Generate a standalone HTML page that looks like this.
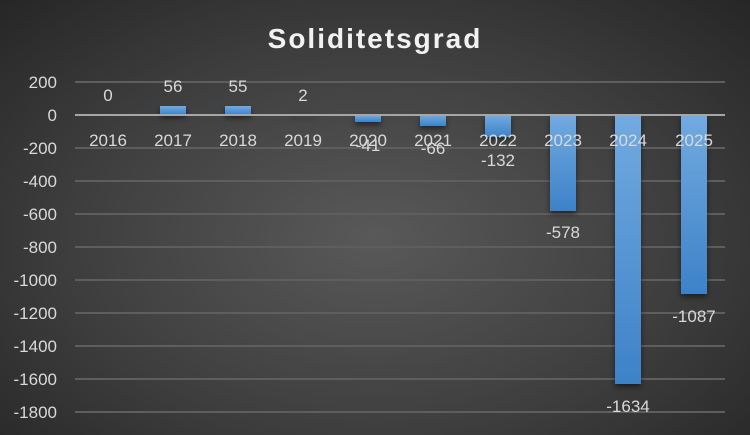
<!DOCTYPE html>
<html><head><meta charset="utf-8"><style>
html,body{margin:0;padding:0}
body{width:750px;height:435px;overflow:hidden;background:radial-gradient(ellipse at 50% 55%,#595959 0%,#3f3f3f 55%,#262626 100%);font-family:"Liberation Sans",sans-serif}
</style></head><body>
<svg width="750" height="435" xmlns="http://www.w3.org/2000/svg" style="position:absolute;left:0;top:0">
<defs>
<linearGradient id="bg" x1="0" y1="0" x2="0" y2="1"><stop offset="0" stop-color="#72aae0"/><stop offset="1" stop-color="#3d82c8"/></linearGradient>
<filter id="sh" x="-30%" y="-30%" width="160%" height="160%"><feDropShadow dx="0" dy="3" stdDeviation="3" flood-color="#000" flood-opacity="0.5"/></filter>
</defs>
<text x="375" y="48" text-anchor="middle" fill="#f2f2f2" font-size="28" font-weight="bold" letter-spacing="2">Soliditetsgrad</text>
<g stroke="#5e5e5e" stroke-width="2">
<line x1="75" x2="725" y1="82" y2="82"/>
<line x1="75" x2="725" y1="148" y2="148"/><line x1="75" x2="725" y1="181" y2="181"/>
<line x1="75" x2="725" y1="214" y2="214"/><line x1="75" x2="725" y1="247" y2="247"/>
<line x1="75" x2="725" y1="280" y2="280"/><line x1="75" x2="725" y1="313" y2="313"/>
<line x1="75" x2="725" y1="346" y2="346"/><line x1="75" x2="725" y1="379" y2="379"/>
<line x1="75" x2="725" y1="412" y2="412"/>
</g>
<g fill="#d9d9d9" font-size="17" text-anchor="end">
<text x="57" y="88">200</text><text x="57" y="121">0</text><text x="57" y="154">-200</text>
<text x="57" y="187">-400</text><text x="57" y="220">-600</text><text x="57" y="253">-800</text>
<text x="57" y="286">-1000</text><text x="57" y="319">-1200</text><text x="57" y="352">-1400</text>
<text x="57" y="385">-1600</text><text x="57" y="418">-1800</text>
</g>
<g fill="url(#bg)" filter="url(#sh)">
<rect x="160" y="106" width="26" height="9"/>
<rect x="225" y="106" width="26" height="9"/>
<rect x="290" y="114" width="26" height="1"/>
<rect x="355" y="115" width="26" height="7"/>
<rect x="420" y="115" width="26" height="11"/>
<rect x="485" y="115" width="26" height="22"/>
<rect x="550" y="115" width="26" height="96"/>
<rect x="615" y="115" width="26" height="269"/>
<rect x="681" y="115" width="26" height="179"/>
</g>
<line x1="75" x2="725" y1="115" y2="115" stroke="#a6a6a6" stroke-width="2"/>
<g fill="#d9d9d9" font-size="17" text-anchor="middle">
<text x="108" y="146">2016</text><text x="173" y="146">2017</text><text x="238" y="146">2018</text>
<text x="303" y="146">2019</text><text x="368" y="146">2020</text><text x="433" y="146">2021</text>
<text x="498" y="146">2022</text><text x="563" y="146">2023</text><text x="628" y="146">2024</text>
<text x="694" y="146">2025</text>
<text x="108" y="101">0</text><text x="173" y="92">56</text><text x="238" y="92">55</text>
<text x="303" y="101">2</text><text x="368" y="151">-41</text><text x="433" y="154">-66</text>
<text x="498" y="166">-132</text><text x="563" y="238">-578</text><text x="628" y="412">-1634</text>
<text x="694" y="322">-1087</text>
</g>
</svg>
</body></html>
